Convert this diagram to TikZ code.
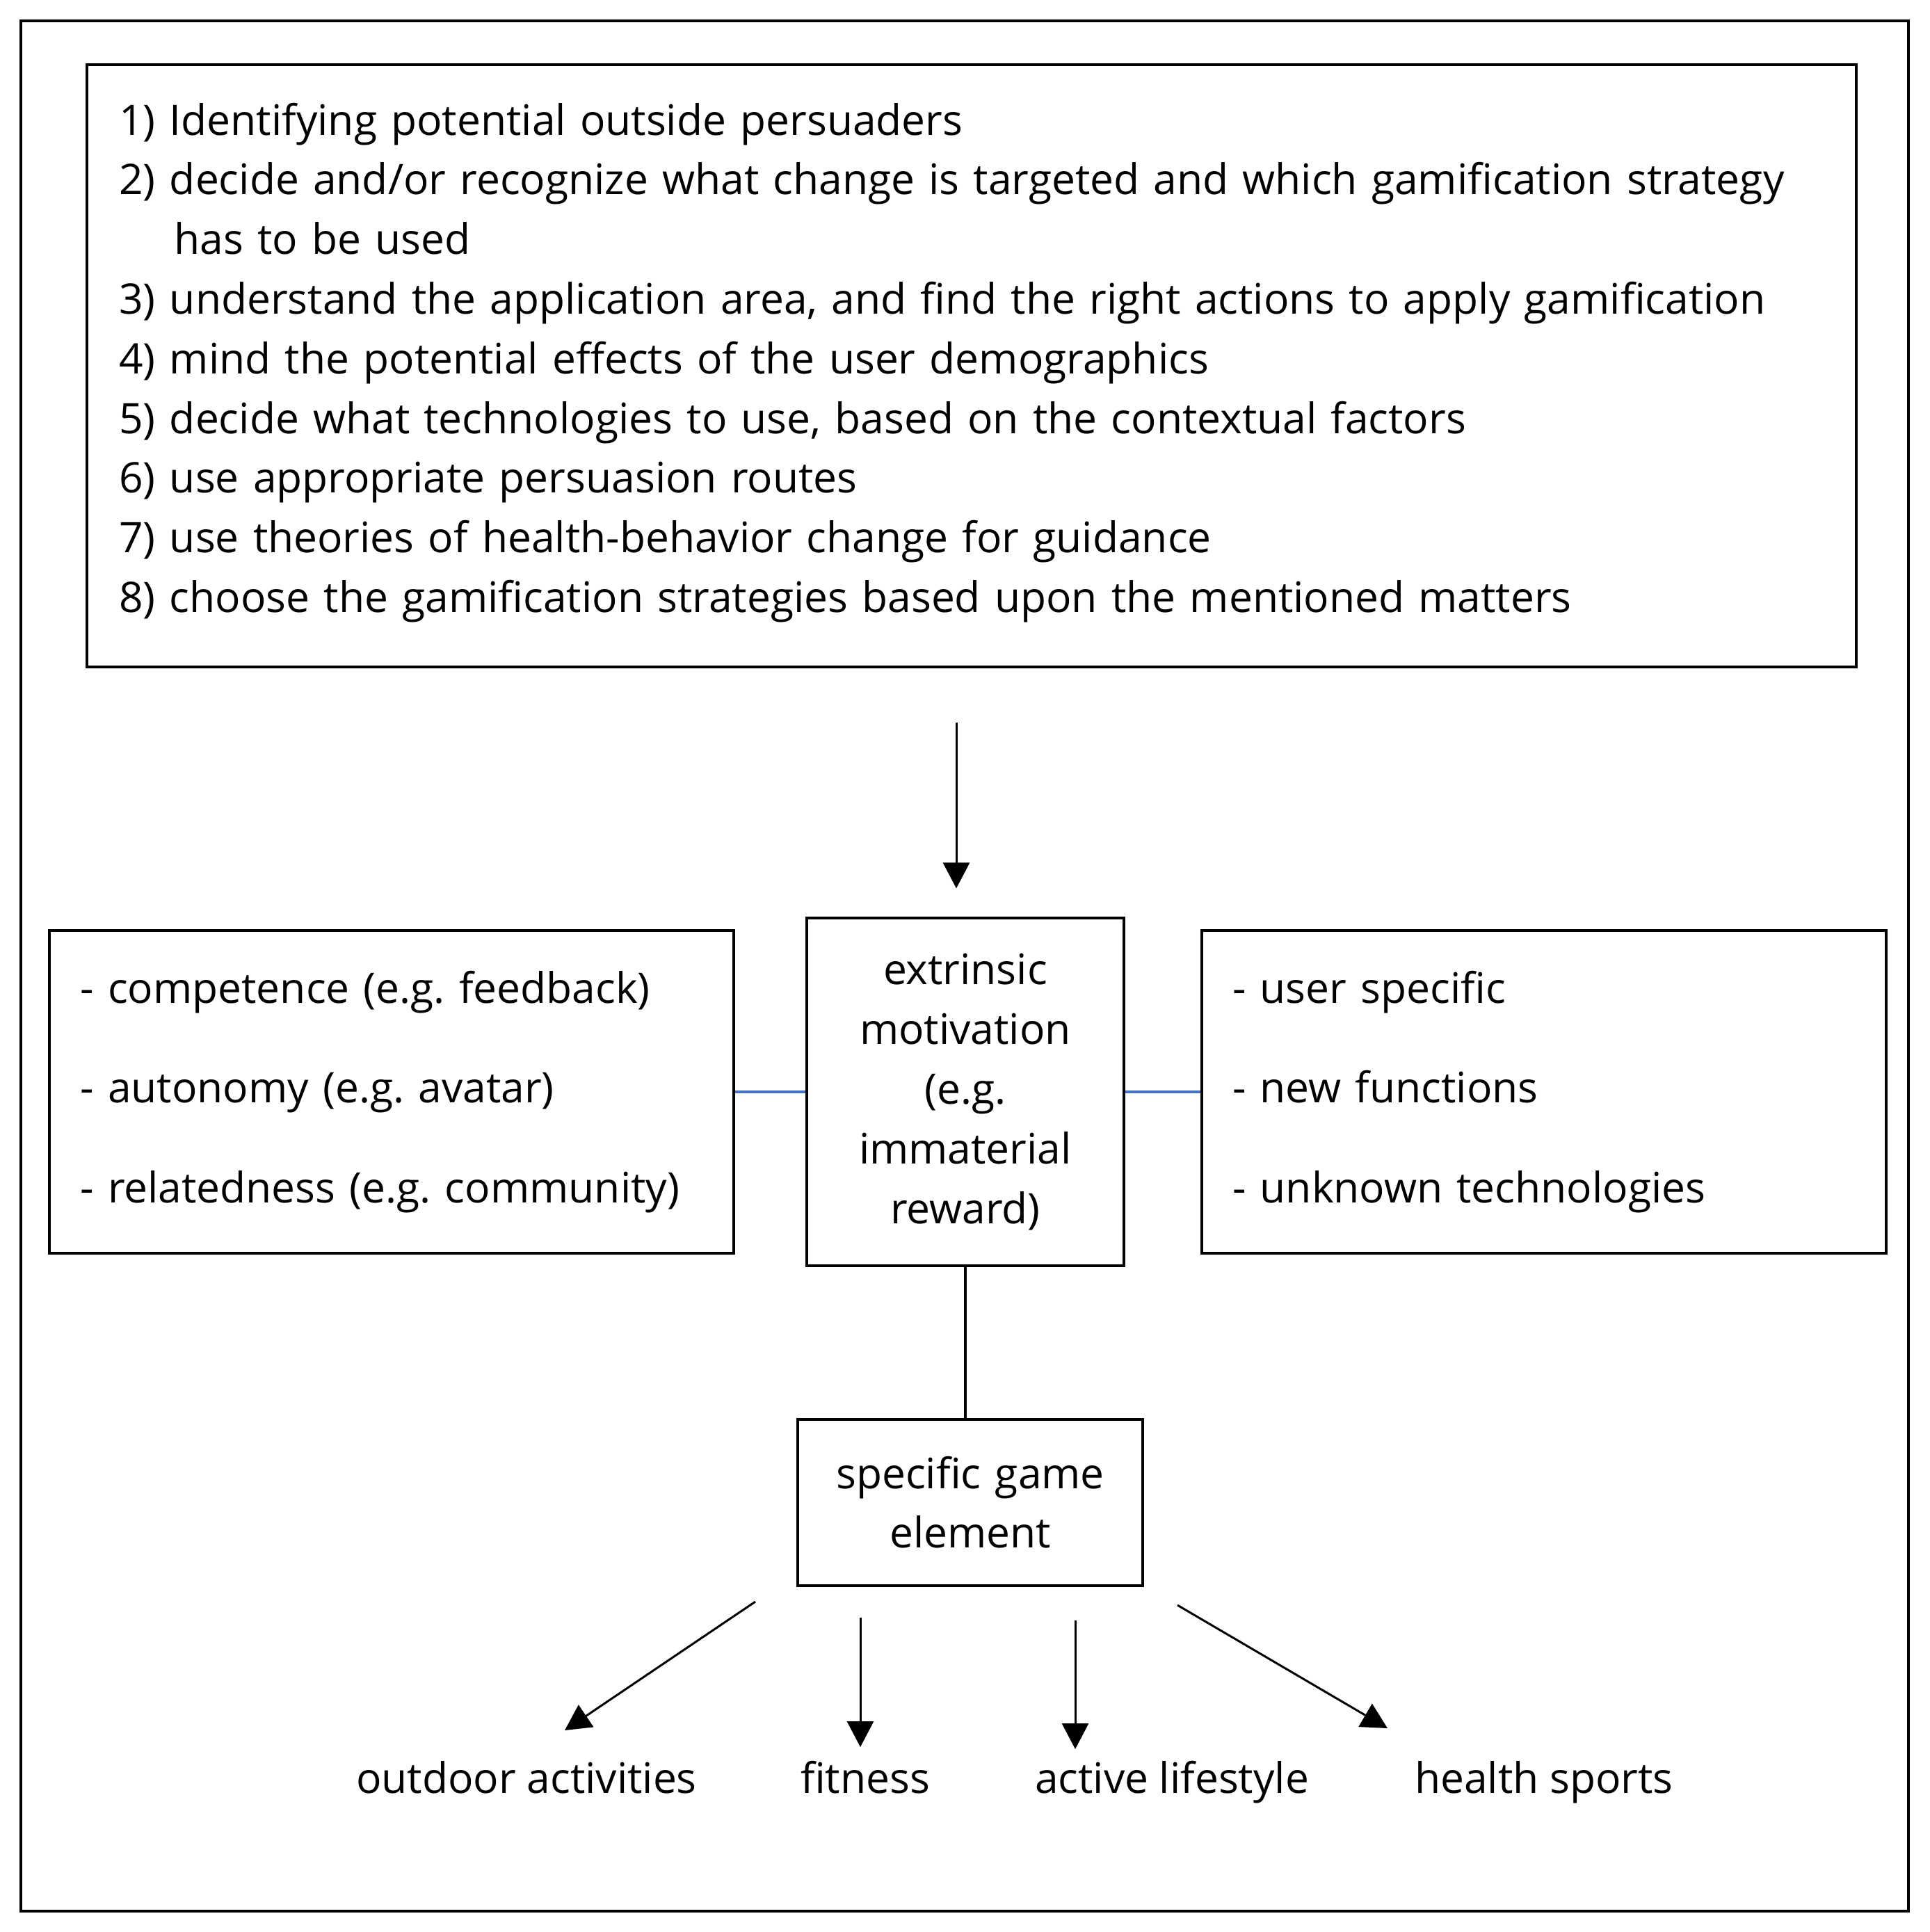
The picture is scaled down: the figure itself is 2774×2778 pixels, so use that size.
\documentclass[tikz,border=0pt]{standalone}
\usepackage{fontspec}
\setmainfont{Open Sans}
\usepackage{xcolor}
\usetikzlibrary{arrows.meta,positioning}
\definecolor{linkblue}{HTML}{4472C4}

\begin{document}
\begin{tikzpicture}[
    x=0.01cm, y=-0.01cm,
    >={Triangle[length=0.37cm, width=0.38cm]},
    every node/.style={font=\fontsize{17.2}{24.4}\selectfont},
    box/.style={draw, line width=1.1pt, align=left, inner xsep=0.44cm,
                inner ysep=0pt},
    arrow/.style={->, line width=0.85pt},
    link/.style={draw=linkblue, line width=0.9pt},
    leaf/.style={inner sep=0pt, anchor=base},
  ]
  \useasboundingbox (0,0) rectangle (2774,2778);
  \draw[line width=1.1pt] (30,30) rectangle (2744,2748);

  \node[box, align=center, text width=3.9cm, inner xsep=0.33cm,
    minimum height=4.99cm] (mot) at (1388,1570)
    {extrinsic\\motivation\\(e.g.\\immaterial\\reward)};
  \node[box, text width=8.95cm, minimum height=4.64cm, left=1.01cm of mot]
    (needs) {- competence (e.g.\ feedback)\\[0.58cm]
             - autonomy (e.g.\ avatar)\\[0.58cm]
             - relatedness (e.g.\ community)};
  \node[box, text width=8.95cm, minimum height=4.64cm, right=1.08cm of mot]
    (tech) {- user specific\\[0.58cm]
            - new functions\\[0.58cm]
            - unknown technologies};
  \node[box, text width=24.5cm, inner xsep=0.46cm, minimum height=8.66cm,
    above=3.57cm of mot, xshift=0.09cm] (steps)
    {1) Identifying potential outside persuaders\\
     2) decide and/or recognize what change is targeted and which gamification strategy\\
     \hspace*{0.79cm}has to be used\\
     3) understand the application area, and find the right actions to apply gamification\\
     4) mind the potential effects of the user demographics\\
     5) decide what technologies to use, based on the contextual factors\\
     6) use appropriate persuasion routes\\
     7) use theories of health-behavior change for guidance\\
     8) choose the gamification strategies based upon the mentioned matters\\[-0.62cm]
     \mbox{}};
  \node[box, align=center, text width=4.3cm, inner xsep=0.33cm,
    minimum height=2.39cm, below=2.17cm of mot, xshift=0.07cm] (game)
    {specific game\\element};

  \node[leaf] (outdoor) at (757,2578) {outdoor activities};
  \node[leaf] (fitness) at (1244,2578) {fitness};
  \node[leaf] (active) at (1685,2578) {active lifestyle};
  \node[leaf] (health) at (2220,2578) {health sports};

  \coordinate (outS) at (1086,2303);
  \coordinate (outE) at (812,2488);
  \coordinate (fitS) at (1237,2326);
  \coordinate (fitE) at (1237,2512);
  \coordinate (actS) at (1546,2330);
  \coordinate (actE) at (1546,2515);
  \coordinate (heaS) at (1693,2308);
  \coordinate (heaE) at (1995,2485);

  \draw[arrow, shorten <=0.78cm, shorten >=0.41cm]
    ([xshift=-0.22cm]steps.south) -- ([xshift=-0.22cm]steps.south |- mot.north);
  \draw[link] (needs) -- (mot);
  \draw[link] (mot) -- (tech);
  \draw[line width=1pt] (mot.south) -- (mot.south |- game.north);

  \draw[arrow] (outS) -- (outE);
  \draw[arrow] (fitS) -- (fitE);
  \draw[arrow] (actS) -- (actE);
  \draw[arrow] (heaS) -- (heaE);

\end{tikzpicture}
\end{document}
